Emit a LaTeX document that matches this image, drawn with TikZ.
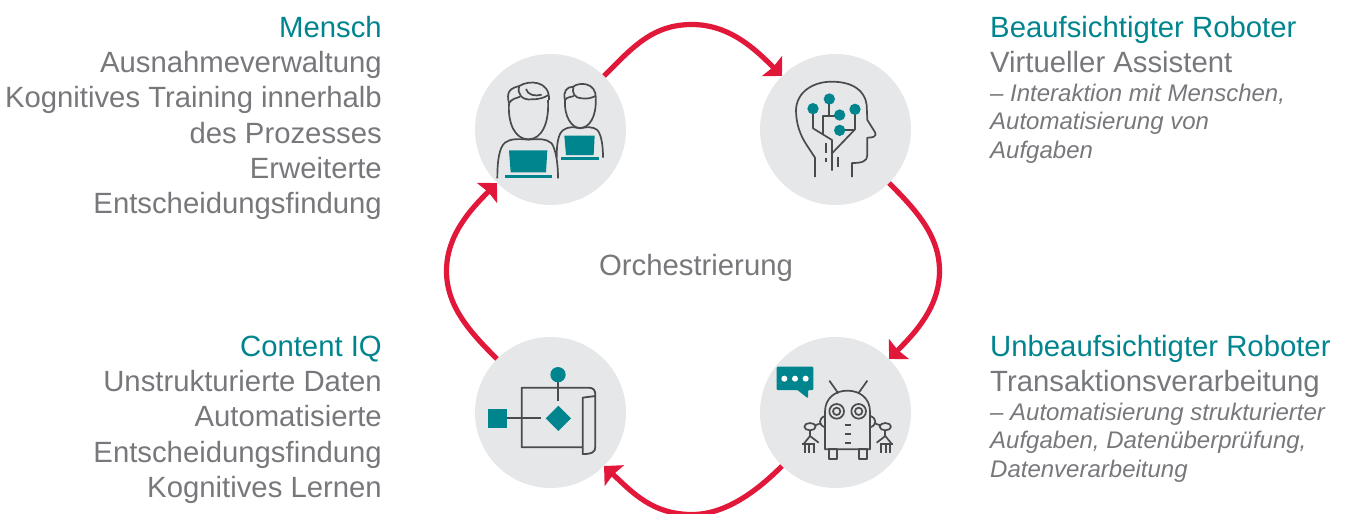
\documentclass[tikz,border=0pt]{standalone}
\usepackage{fontspec}
\setmainfont{Liberation Sans}
\usetikzlibrary{arrows.meta}
\definecolor{tealc}{HTML}{00858F}
\definecolor{greyt}{HTML}{77787B}
\definecolor{linec}{HTML}{4A4B4D}
\definecolor{discc}{HTML}{E6E7E8}
\definecolor{redc}{HTML}{E2183A}
\tikzset{
 disc/.style={circle,fill=discc,minimum size=151pt,inner sep=0pt},
 flow/.style={draw=redc,line width=5.2pt,-{Stealth[length=14pt,width=28pt,inset=1.5pt]}},
 rtext/.style={anchor=north east,inner sep=0pt,align=right,text=greyt,font=\fontsize{29.3}{35.3}\selectfont},
 ltext/.style={anchor=north west,inner sep=0pt,align=left,text=greyt,font=\fontsize{29.3}{35.3}\selectfont},
 ltexti/.style={ltext,font=\fontsize{24}{28.7}\selectfont\itshape},
 ic/.style={draw=linec,line width=1.7pt,line join=round,fill=none},
 icfill/.style={fill=tealc,draw=none},
 zoomed/.style={x=0.33333pt,y=-0.33333pt},
}
\newcommand{\hd}[1]{{\color{tealc}\strut #1}}
\begin{document}
\begin{tikzpicture}[x=1pt,y=-1pt]
\useasboundingbox (0,0) rectangle (1352,514);
\clip (0,0) rectangle (1352,514);
\node[disc] (tl) at (550.5,129.5) {};
\node[disc] (tr) at (835.5,129.5) {};
\node[disc] (bl) at (550.5,412.5) {};
\node[disc] (br) at (835.5,412.5) {};
% connectors
\draw[flow] (tl.45) .. controls (632,48) and (652,24.5) .. (692,24.5) .. controls (730,24.5) and (756,50) .. (tr.135);
\draw[flow] (tr.-45) .. controls (915,209) and (939.5,235) .. (939.5,271) .. controls (939.5,307) and (915,333) .. (br.45);
\draw[flow] (br.-135) .. controls (756,492) and (725,514.5) .. (692,514.5) .. controls (652,514.5) and (632,492) .. (bl.-45);
\draw[flow] (bl.135) .. controls (471,333) and (446.5,307) .. (446.5,271) .. controls (446.5,235) and (471,209) .. (tl.-135);
% text
\node[rtext] (mensch) at (382,12.3) {\hd{Mensch}\\Ausnahmeverwaltung\\Kognitives Training innerhalb\\des Prozesses\\Erweiterte\\Entscheidungsfindung};
\node[rtext] (content) at (382,331.3) {\hd{Content IQ}\\Unstrukturierte Daten\\Automatisierte\\Entscheidungsfindung\\Kognitives Lernen};
\node[ltext] (beauf) at (990,12.3) {\hd{Beaufsichtigter Roboter}\\Virtueller Assistent};
\node[ltexti] (beaufi) at (990,81) {\strut – Interaktion mit Menschen,\\Automatisierung von\\Aufgaben};
\node[ltext] (unbeauf) at (990,331.3) {\hd{Unbeaufsichtigter Roboter}\\Transaktionsverarbeitung};
\node[ltexti] (unbeaufi) at (990,400) {\strut – Automatisierung strukturierter\\Aufgaben, Datenüberprüfung,\\Datenverarbeitung};
\node[rtext,anchor=base,align=center] (orch) at (696,275) {Orchestrierung};
% people icon
\begin{scope}[xshift=460pt,yshift=-60pt,zoomed]
 \fill[icfill] (147,271)--(262,271)--(258,337)--(152,337)--cycle;
 \fill[icfill] (134,344) rectangle (276,355);
 \fill[icfill] (313,227)--(404,227)--(401,285)--(318,285)--cycle;
 \fill[icfill] (303,292) rectangle (416,299);
 \draw[ic] (112,355) .. controls (112,300) and (118,262) .. (135,248) .. controls (150,236) and (175,236) .. (205,239) .. controls (235,236) and (260,236) .. (275,250) .. controls (288,270) and (294,310) .. (294,355);
 \draw[ic] (147,130) .. controls (143,190) and (165,238) .. (205,238) .. controls (245,238) and (268,190) .. (264,120);
 \draw[ic] (147,130) .. controls (138,95) and (150,85) .. (178,78) .. controls (205,60) and (270,60) .. (267,120);
 \draw[ic] (147,130) .. controls (155,115) and (170,115) .. (180,110);
 \draw[ic] (178,78) .. controls (170,100) and (185,122) .. (215,118) .. controls (240,118) and (255,112) .. (265,105);
 \draw[ic] (198,87) .. controls (203,105) and (225,110) .. (245,104);
 \draw[ic] (290,293) .. controls (290,250) and (295,220) .. (310,210) .. controls (325,200) and (340,200) .. (360,205) .. controls (380,200) and (400,200) .. (412,210) .. controls (425,225) and (429,260) .. (429,293);
 \draw[ic] (315,120) .. controls (312,170) and (335,204) .. (360,204) .. controls (388,204) and (410,170) .. (407,115);
 \draw[ic] (315,120) .. controls (308,95) and (320,80) .. (340,80) .. controls (355,66) and (410,65) .. (407,115);
 \draw[ic] (340,80) .. controls (335,100) and (345,115) .. (365,115) .. controls (385,118) and (398,112) .. (406,108);
 \draw[ic] (315,120) .. controls (322,110) and (332,112) .. (342,108);
\end{scope}
% head icon
\begin{scope}[xshift=750pt,yshift=-60pt,zoomed]
 \draw[ic] (195,351)--(195,293)--(170,255) .. controls (150,225) and (138,190) .. (138,150) .. controls (140,95) and (190,65) .. (245,65) .. controls (305,65) and (345,90) .. (350,135) -- (352,180) -- (374,215) .. controls (383,232) and (365,233) .. (352,233) -- (352,285) .. controls (352,305) and (335,309) .. (306,309) -- (306,351);
 \draw[ic] (189,146)--(189,205)--(246,240)--(246,332);
 \draw[ic] (238,117)--(238,168);
 \draw[ic] (269,168)--(220,168)--(220,222);
 \draw[ic] (315,148)--(315,208)--(248,278);
 \draw[ic] (269,211)--(315,211);
 \draw[ic] (229,250)--(229,280);
 \draw[ic] (229,295)--(229,307);
 \draw[ic] (263,290)--(263,322);
 \fill[icfill] (189,146) circle[radius=17] (238,117) circle[radius=17] (269,165) circle[radius=17] (315,148) circle[radius=17] (269,211) circle[radius=17];
\end{scope}
% flow icon
\begin{scope}[xshift=460pt,yshift=-330pt,zoomed]
 \draw[ic,line width=1.8pt] (368,352)--(185,352)--(185,173)--(385,173) .. controls (400,173) and (407,180) .. (406,198) -- (406,350) .. controls (406,368) and (395,372) .. (368,372) -- (368,203) -- (406,198);
 \draw[ic,line width=1.8pt] (294,134)--(294,212);
 \draw[ic,line width=1.8pt] (141,264)--(243,264);
 \fill[icfill] (294,134) circle[radius=23];
 \fill[icfill] (84,237) rectangle (141,294);
 \fill[icfill] (295,227)--(333,265)--(295,303)--(257,265)--cycle;
\end{scope}
% robot icon
\begin{scope}[xshift=750pt,yshift=-330pt,zoomed]
 \fill[icfill,rounded corners=1pt] (80,110)--(190,110)--(190,180)--(174,180)--(174,205)--(142,180)--(80,180)--cycle;
 \fill[white] (103,146) circle[radius=9] (135,146) circle[radius=9] (167,146) circle[radius=9];
 \draw[ic] (225,358)--(225,245) .. controls (225,205) and (255,182) .. (292,182) .. controls (330,182) and (360,205) .. (360,245) -- (360,358) -- cycle;
 \draw[ic] (238,152)--(265,190) (352,152)--(325,190);
 \draw[ic] (260,244) circle[radius=22] (260,244) circle[radius=11];
 \draw[ic] (326,244) circle[radius=22] (326,244) circle[radius=11];
 \draw[ic] (285,285)--(303,285) (285,312)--(303,312) (285,338)--(303,338);
 \draw[ic] (238,358) rectangle (262,388) (326,358) rectangle (350,388);
 \foreach \m/\o in {1/0,-1/586}{
  \begin{scope}[xshift=\o*0.33333pt,x=\m*0.33333pt]
   \draw[ic] (225,258) .. controls (205,265) and (205,285) .. (225,292);
   \draw[ic] (180,290) ellipse[x radius=17,y radius=11];
   \draw[ic] (195,286)--(212,280);
   \draw[ic] (180,301)--(180,318);
   \draw[ic] (160,343) -- (180,318) -- (206,338);
   \draw[ic] (157,343)--(195,343);
   \draw[ic] (165,343)--(165,369) (178,343)--(178,369) (192,343)--(192,369);
  \end{scope}
 }
\end{scope}
\end{tikzpicture}
\end{document}
